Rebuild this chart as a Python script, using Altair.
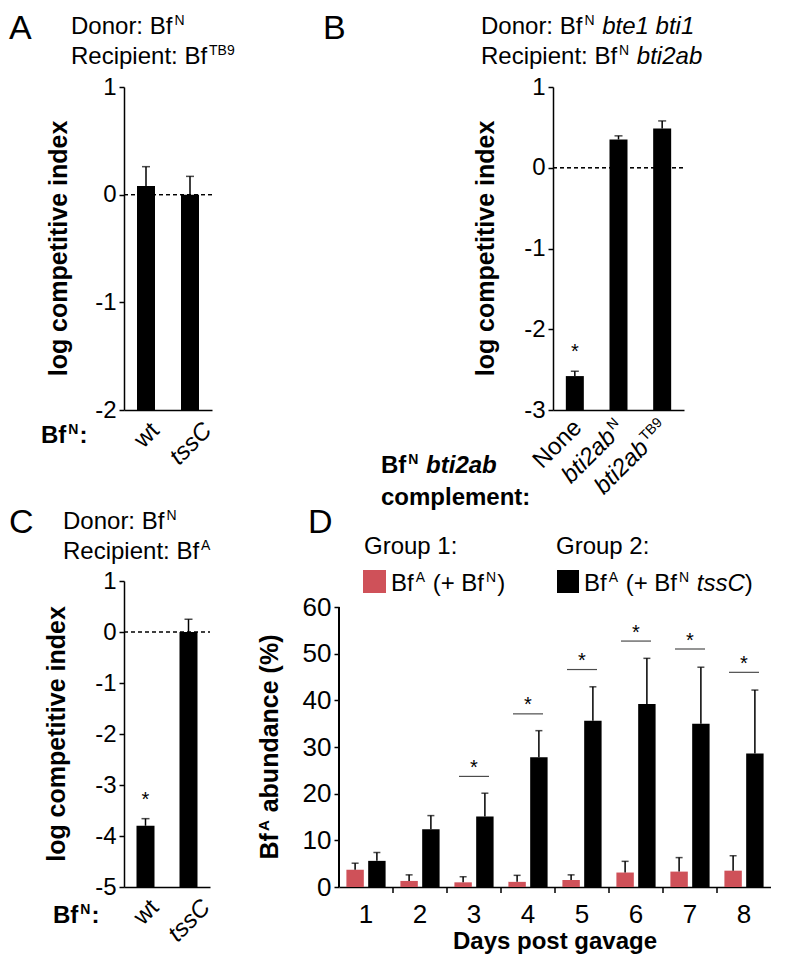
import math
import altair as alt
import pandas as pd

FONT = "Liberation Sans"
RED = "#cf5159"

# ---------------- data ----------------
a_labels = ["wt", "tssC"]
a_values = [0.08, 0.0]
a_errors = [0.18, 0.17]
a_star = [False, False]

b_labels = ["None", "bti2abN", "bti2abTB9"]
b_values = [-2.58, 0.35, 0.485]
b_errors = [0.06, 0.045, 0.095]
b_star = [True, False, False]

c_labels = ["wt", "tssC"]
c_values = [-3.80, 0.0]
c_errors = [0.14, 0.25]
c_star = [True, False]

days = [1, 2, 3, 4, 5, 6, 7, 8]
group1_values = [3.7, 1.3, 1.0, 1.1, 1.5, 3.1, 3.3, 3.5]
group1_errors = [1.4, 1.3, 1.2, 1.4, 1.1, 2.4, 3.0, 3.2]
group2_values = [5.6, 12.4, 15.1, 27.8, 35.6, 39.2, 35.0, 28.6]
group2_errors = [1.8, 2.9, 5.0, 5.7, 7.3, 9.8, 12.1, 13.6]
sig_days = [3, 4, 5, 6, 7, 8]
sig_heights = [23.7, 37.1, 46.6, 52.7, 51.0, 46.0]
d_ticks = [0, 10, 20, 30, 40, 50, 60]

# ---------------- layout (page pixels) ----------------
A_X, A_Y, A_W = 123, 86, 88
B_X, B_W = 552, 131
ROW1_H = 323
C_X, C_Y, C_W, C_H = 123, 580, 86, 306
D_X, D_W = 338, 432
D_TOP60 = 606                      # page y of the value 60
D_MAX = 60 * C_H / (C_Y + C_H - D_TOP60)
R1 = (A_X, A_Y)                    # origin of row 1
R2 = (C_X, C_Y)                    # origin of row 2
ROW1_W = B_X + B_W - A_X
ROW2_W = D_X + D_W - C_X

# ---------------- text metrics (Arial / Liberation Sans) ----------------
REG = {' ': 278, '!': 278, '%': 889, '(': 333, ')': 333, '*': 389, '+': 584, ',': 278,
       '-': 333, '.': 278, ':': 278,
       'A': 667, 'B': 667, 'C': 722, 'D': 722, 'G': 778, 'N': 722, 'R': 722, 'T': 611,
       'a': 556, 'b': 556, 'c': 500, 'd': 556, 'e': 556, 'f': 278, 'g': 556, 'h': 556,
       'i': 222, 'l': 222, 'm': 833, 'n': 556, 'o': 556, 'p': 556, 'r': 333, 's': 500,
       't': 278, 'u': 556, 'v': 500, 'w': 722, 'x': 500, 'y': 500}
BOLD = {' ': 278, '%': 889, '(': 333, ')': 333, ':': 333, '-': 333,
        'A': 722, 'B': 722, 'C': 722, 'D': 722, 'G': 778, 'N': 722, 'T': 611,
        'a': 556, 'b': 611, 'c': 556, 'd': 611, 'e': 556, 'f': 333, 'g': 611, 'i': 278,
        'l': 278, 'm': 889, 'n': 611, 'o': 611, 'p': 611, 'r': 389, 's': 556, 't': 333,
        'u': 611, 'v': 556, 'x': 556, 'y': 556}


def tw(s, fs, bold):
    tab = BOLD if bold else REG
    return sum(tab.get(ch, 556) for ch in s) * fs / 1000.0


def P(t, fs=24, b=False, i=False, r=0):
    return {"t": t, "fs": fs, "b": b, "i": i, "r": r}


def G(px):
    return {"t": "", "gap": px}


def width_of(p):
    return p["gap"] if p["t"] == "" else tw(p["t"], p["fs"], p["b"])


ONE = pd.DataFrame({"k": [0]})


def run(parts, x, y, origin, angle=0, align="left"):
    ws = [width_of(p) for p in parts]
    total = sum(ws)
    s = {"left": 0.0, "center": -total / 2, "right": -total}[align]
    th = math.radians(angle)
    dx, dy = math.cos(th), math.sin(th)
    nx, ny = -math.sin(th), math.cos(th)
    out = []
    for p, w in zip(parts, ws):
        if p["t"].strip():
            txt = p["t"].lstrip()
            lead = tw(p["t"][:len(p["t"]) - len(txt)], p["fs"], p["b"])
            r = p["r"]
            sp = s + lead
            px = x + sp * dx - r * nx - origin[0]
            py = y + sp * dy - r * ny - origin[1]
            kw = dict(text=txt, font=FONT, fontSize=p["fs"],
                      fontWeight="bold" if p["b"] else "normal",
                      fontStyle="italic" if p["i"] else "normal",
                      align="left", baseline="alphabetic", color="black")
            if angle % 360:
                kw["angle"] = angle % 360
            out.append(alt.Chart(ONE).mark_text(**kw).encode(
                x=alt.value(round(px, 2)), y=alt.value(round(py, 2))))
        s += w
    return out


def sup(t, b=False):
    return [G(2), P(t, 14, b=b, r=9), G(1)]


ITALIC = {"tssC"}
RICH = {
    "None": [P("None")],
    "bti2abN": [P("bti2ab", i=True)] + sup("N"),
    "bti2abTB9": [P("bti2ab", i=True)] + sup("TB9"),
}


def ci_layer(labels, values, errors, stars, ymin, ox, oy, width, height, origin, label_mode):
    x0 = ox - origin[0]
    tops = [v + e for v, e in zip(values, errors)]
    df = pd.DataFrame({"cat": labels, "val": values, "top": tops,
                       "star": ["*" if s else "" for s in stars]})
    xenc = alt.X("cat:N", sort=labels,
                 scale=alt.Scale(range=[x0, x0 + width], paddingInner=0, paddingOuter=0),
                 axis=alt.Axis(title=None, orient="bottom", labels=False, ticks=False,
                               tickSize=0, domainColor="black", domainWidth=1.5))
    xplain = alt.X("cat:N", sort=labels)
    yscale = alt.Scale(domain=[ymin, 1], nice=False, zero=False)
    yaxis = alt.Axis(title=None, orient="left", offset=-x0, values=list(range(ymin, 2)),
                     labelExpr="'' + datum.value",
                     tickSize=5, tickWidth=1.5, tickColor="black", domainColor="black",
                     domainWidth=1.5, labelFont=FONT, labelFontSize=24, labelColor="black",
                     labelPadding=3, grid=False)
    base = alt.Chart(df)
    bars = base.mark_bar(width=18, color="black").encode(
        x=xenc, y=alt.Y("val:Q", scale=yscale, axis=yaxis), y2=alt.datum(ymin))
    zero = base.mark_rule(strokeDash=[4, 3], strokeWidth=1.2, color="black").encode(
        y=alt.datum(0), x=alt.value(x0), x2=alt.value(x0 + width))
    err = base.mark_rule(strokeWidth=1.5, color="black").encode(
        x=xplain, y="val:Q", y2="top:Q")
    cap = base.mark_tick(size=8, thickness=1.5, color="black").encode(x=xplain, y="top:Q")
    star = base.mark_text(font=FONT, fontSize=20, dy=-13, baseline="alphabetic",
                          color="black").encode(x=xplain, y="top:Q", text="star:N")
    layers = [bars, zero, err, cap, star]
    axis_y = oy + height
    n = len(labels)
    for i, lab in enumerate(labels):
        bc = ox + (i + 0.5) * width / n
        if label_mode == "center":
            parts = [P(lab, 24, i=lab in ITALIC)]
            L = sum(width_of(p) for p in parts)
            my = axis_y + 10 + (L + 17) * 0.354
            sh = 0.35 * 24 * 0.707
            layers += run(parts, bc + sh, my + sh, origin, angle=315, align="center")
        else:
            parts = RICH[lab]
            layers += run(parts, bc + 8, axis_y + 19, origin, angle=315, align="right")
    return alt.layer(*layers)


# ---------------- row 1 : panels A and B ----------------
layerA = ci_layer(a_labels, a_values, a_errors, a_star, -2, A_X, A_Y, A_W, ROW1_H, R1, "center")
layerB = ci_layer(b_labels, b_values, b_errors, b_star, -3, B_X, A_Y, B_W, ROW1_H, R1, "right")

t1 = []
t1.append(alt.Chart(ONE).mark_point(size=1, opacity=0).encode(
    x=alt.value(8 - R1[0]), y=alt.value(8 - R1[1])))
t1 += run([P("A", 34)], 8, 38, R1)
t1 += run([P("Donor: Bf")] + sup("N"), 70, 33, R1)
t1 += run([P("Recipient: Bf")] + sup("TB9"), 70, 63, R1)
t1 += run([P("Bf", 24, b=True)] + sup("N", b=True) + [P(":", 24, b=True)], 40, 442, R1)
t1 += run([P("log competitive index", 25, b=True)], 66, A_Y + ROW1_H / 2, R1,
          angle=270, align="center")
t1 += run([P("B", 34)], 322, 38, R1)
t1 += run([P("Donor: Bf")] + sup("N") + [P(" bte1 bti1", i=True)], 480, 33, R1)
t1 += run([P("Recipient: Bf")] + sup("N") + [P(" bti2ab", i=True)], 480, 63, R1)
t1 += run([P("Bf", 24, b=True)] + sup("N", b=True) + [P(" bti2ab", 24, b=True, i=True)],
          380, 472, R1)
t1 += run([P("complement:", 24, b=True)], 380, 504, R1)
t1 += run([P("log competitive index", 25, b=True)], 493, A_Y + ROW1_H / 2, R1,
          angle=270, align="center")

row1 = alt.layer(layerA, layerB, *t1).resolve_scale(
    x="independent", y="independent").properties(width=ROW1_W, height=ROW1_H)

# ---------------- row 2 : panels C and D ----------------
layerC = ci_layer(c_labels, c_values, c_errors, c_star, -5, C_X, C_Y, C_W, C_H, R2, "center")

rows = []
for i, d in enumerate(days):
    rows.append({"day": d, "g": "Group 1", "val": group1_values[i],
                 "top": group1_values[i] + group1_errors[i]})
    rows.append({"day": d, "g": "Group 2", "val": group2_values[i],
                 "top": group2_values[i] + group2_errors[i]})
ddf = pd.DataFrame(rows)
sigdf = pd.DataFrame({"day": sig_days, "h": sig_heights})
tickdf = pd.DataFrame({"day": days})

dx0 = D_X - R2[0]
groups = ["Group 1", "Group 2"]
xd = alt.X("day:O", scale=alt.Scale(range=[dx0, dx0 + D_W], paddingInner=0, paddingOuter=0),
           axis=alt.Axis(title=None, orient="bottom", labelAngle=0, ticks=False, tickSize=0,
                         labelPadding=14, labelFont=FONT, labelFontSize=26,
                         labelColor="black", domainColor="black", domainWidth=1.5))
xdp = alt.X("day:O")
xo = alt.XOffset("g:N", sort=groups,
                 scale=alt.Scale(domain=groups, paddingInner=0.2, paddingOuter=0.34))
col = alt.Color("g:N", scale=alt.Scale(domain=groups, range=[RED, "black"]), legend=None)
yd = alt.Y("val:Q", scale=alt.Scale(domain=[0, D_MAX], nice=False),
           axis=alt.Axis(title=None, orient="left", offset=-dx0, values=d_ticks, tickSize=5,
                         tickWidth=1.5, tickColor="black", domain=False,
                         labelFont=FONT, labelFontSize=26, labelColor="black",
                         labelPadding=3, grid=False))

dbars = alt.Chart(ddf).mark_bar().encode(x=xd, xOffset=xo, y=yd, color=col)
dyaxis = alt.Chart(ddf).mark_rule(strokeWidth=1.5, color="black").encode(
    x=alt.value(dx0), y=alt.datum(d_ticks[0]), y2=alt.datum(d_ticks[-1]))
derr = alt.Chart(ddf).mark_rule(strokeWidth=1.5, color="black").encode(
    x=xdp, xOffset=xo, y="val:Q", y2="top:Q")
dcap = alt.Chart(ddf).mark_tick(size=7, thickness=1.5, color="black").encode(
    x=xdp, xOffset=xo, y="top:Q")
dsig = alt.Chart(sigdf).mark_tick(size=30, thickness=1.2, color="black").encode(
    x=xdp, y="h:Q")
dstar = alt.Chart(sigdf).mark_text(text="*", font=FONT, fontSize=20, dy=-2.5,
                                   baseline="alphabetic", color="black").encode(
    x=xdp, y="h:Q")
dticks = alt.Chart(tickdf).transform_filter("datum.day > 1").mark_rule(
    strokeWidth=1.5, color="black").encode(
    x=alt.X("day:O", bandPosition=0), y=alt.value(C_H), y2=alt.value(C_H + 6))
layerD = alt.layer(dbars, dyaxis, derr, dcap, dsig, dstar, dticks)

t2 = []
t2 += run([P("C", 34)], 8, 532, R2)
t2 += run([P("Donor: Bf")] + sup("N"), 62, 528, R2)
t2 += run([P("Recipient: Bf")] + sup("A"), 62, 558, R2)
t2 += run([P("Bf", 24, b=True)] + sup("N", b=True) + [P(":", 24, b=True)], 52, 922, R2)
t2 += run([P("log competitive index", 25, b=True)], 64, C_Y + C_H / 2, R2,
          angle=270, align="center")
t2 += run([P("D", 34)], 307, 532, R2)
t2 += run([P("Group 1:")], 363, 553, R2)
t2 += run([P("Group 2:")], 555, 553, R2)
t2.append(alt.Chart(ONE).mark_rect(color=RED).encode(
    x=alt.value(362 - R2[0]), x2=alt.value(385 - R2[0]),
    y=alt.value(569 - R2[1]), y2=alt.value(592 - R2[1])))
t2.append(alt.Chart(ONE).mark_rect(color="black").encode(
    x=alt.value(556 - R2[0]), x2=alt.value(578 - R2[0]),
    y=alt.value(569 - R2[1]), y2=alt.value(592 - R2[1])))
t2 += run([P("Bf")] + sup("A") + [P(" (+ Bf")] + sup("N") + [P(")")], 390, 590, R2)
t2 += run([P("Bf")] + sup("A") + [P(" (+ Bf")] + sup("N") +
          [P(" "), P("tssC", i=True), P(")")], 583, 590, R2)
t2 += run([P("Bf", 25, b=True), G(2), P("A", 15, b=True, r=9), G(1),
           P(" abundance (%)", 25, b=True)], 277, (D_TOP60 + C_Y + C_H) / 2, R2,
          angle=270, align="center")
t2 += run([P("Days post gavage", 24, b=True)], D_X + D_W / 2, 948, R2, align="center")

row2 = alt.layer(layerC, layerD, *t2).resolve_scale(
    x="independent", y="independent").properties(width=ROW2_W, height=C_H)

chart = alt.vconcat(row1, row2, spacing=C_Y - (A_Y + ROW1_H), bounds="flush").properties(
    padding=0).configure_view(strokeWidth=0)

chart.save("out.html", embed_options={"renderer": "svg", "actions": False})
